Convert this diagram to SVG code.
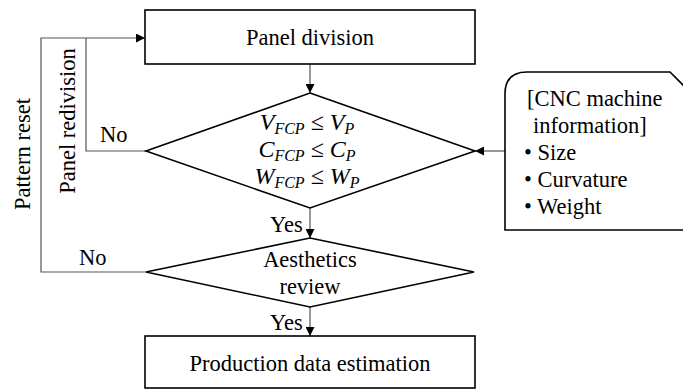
<svg xmlns="http://www.w3.org/2000/svg" width="683" height="389" viewBox="0 0 683 389">
<defs>
<marker id="arr" viewBox="0 0 10 10" refX="10" refY="5" markerWidth="9" markerHeight="9" markerUnits="userSpaceOnUse" orient="auto">
<path d="M0,0 L10,5 L0,10 Z" fill="#000"/>
</marker>
<style>
.shape{fill:#fff;stroke:#000;stroke-width:1.6}
.conn{fill:none;stroke:#555;stroke-width:1.2}
.t{font-family:"Liberation Serif","DejaVu Serif",serif;font-size:22.5px;fill:#000}
.m{font-family:"Liberation Serif","DejaVu Serif",serif;font-size:24px;font-style:italic;fill:#000}
.sub{font-size:16px}
.up{font-style:normal}
</style>
</defs>
<rect width="683" height="389" fill="#fff"/>
<g id="connectors">
<path class="conn" d="M310,64 L310,93" marker-end="url(#arr)"/>
<path class="conn" d="M310,208 L310,238" marker-end="url(#arr)"/>
<path class="conn" d="M310,307 L310,336" marker-end="url(#arr)"/>
<path class="conn" d="M505,151 L475,151" marker-end="url(#arr)"/>
<path class="conn" d="M146,151 L86,151 L86,38"/>
<path class="conn" d="M146,272 L41,272 L41,38 L145,38" marker-end="url(#arr)"/>
<text class="t" x="100" y="142">No</text>
<text class="t" x="79" y="265">No</text>
<text class="t" x="270" y="232">Yes</text>
<text class="t" x="270" y="330">Yes</text>
<text class="t" text-anchor="middle" transform="translate(30,154) rotate(-90)">Pattern reset</text>
<text class="t" text-anchor="middle" transform="translate(75,121) rotate(-90)">Panel redivision</text>
</g>
<g id="panel-division">
<rect class="shape" x="145" y="10" width="330" height="54"/>
<text class="t" x="310" y="45" text-anchor="middle">Panel division</text>
</g>
<g id="constraint-check">
<path class="shape" d="M310,93 L475,151 L310,208 L146,151 Z"/>
<text class="m" x="307" y="130" text-anchor="middle">V<tspan class="sub" dy="4">FCP</tspan><tspan class="up" dy="-4"> ≤ </tspan>V<tspan class="sub" dy="4">P</tspan></text>
<text class="m" x="307" y="157" text-anchor="middle">C<tspan class="sub" dy="4">FCP</tspan><tspan class="up" dy="-4"> ≤ </tspan>C<tspan class="sub" dy="4">P</tspan></text>
<text class="m" x="307" y="184" text-anchor="middle">W<tspan class="sub" dy="4">FCP</tspan><tspan class="up" dy="-4"> ≤ </tspan>W<tspan class="sub" dy="4">P</tspan></text>
</g>
<g id="aesthetics-review">
<path class="shape" d="M310,238 L474,272 L310,307 L146,272 Z"/>
<text class="t" x="310" y="267" text-anchor="middle">Aesthetics</text>
<text class="t" x="310" y="294" text-anchor="middle">review</text>
</g>
<g id="production-data">
<rect class="shape" x="145" y="336" width="330" height="52"/>
<text class="t" x="310" y="371" text-anchor="middle">Production data estimation</text>
</g>
<g id="cnc-info">
<path class="shape" d="M505,230 L505,94 Q505,72 527,72 L670,72 L692,94 L692,230 Z"/>
<text class="t" x="527" y="106">[CNC machine</text>
<text class="t" x="533" y="133">information]</text>
<text class="t" x="524" y="160">• Size</text>
<text class="t" x="524" y="187">• Curvature</text>
<text class="t" x="524" y="214">• Weight</text>
</g>
</svg>
